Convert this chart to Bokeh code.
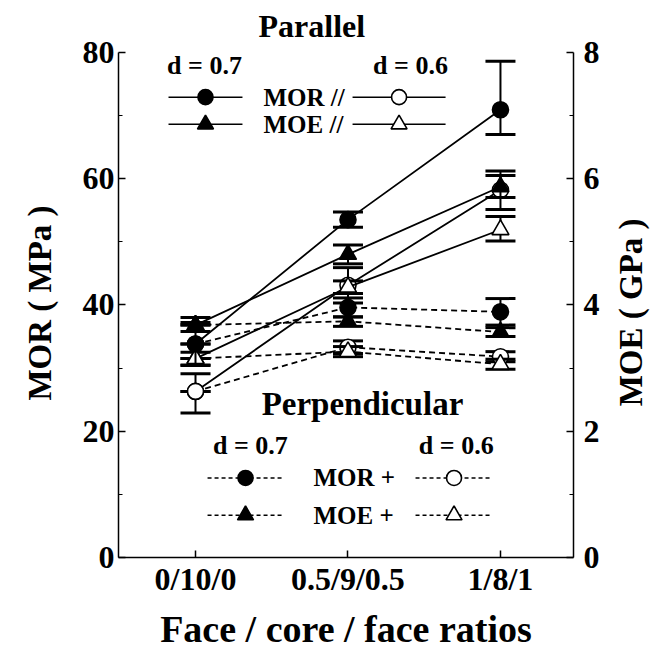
import math
from bokeh.plotting import figure
from bokeh.layouts import row
from bokeh.models import Range1d, LinearAxis, FixedTicker, Label
from bokeh.embed import file_html
from bokeh.resources import INLINE

# ---------------- data ----------------
ratios = ["0/10/0", "0.5/9/0.5", "1/8/1"]
xpos = [0, 1, 2]

# Parallel (solid lines)
mor_par_07 = [33.8, 53.5, 70.9]
mor_par_07_lo = [30.4, 52.3, 67.0]
mor_par_07_hi = [37.2, 54.7, 78.6]

moe_par_07 = [3.68, 4.80, 5.87]
moe_par_07_lo = [3.58, 4.65, 5.70]
moe_par_07_hi = [3.80, 4.95, 6.12]

mor_par_06 = [26.3, 43.1, 58.2]
mor_par_06_lo = [22.9, 40.3, 55.1]
mor_par_06_hi = [29.1, 45.9, 60.5]

moe_par_06 = [3.15, 4.28, 5.19]
moe_par_06_lo = [3.05, 4.18, 5.01]
moe_par_06_hi = [3.25, 4.38, 5.40]

# Perpendicular (dashed lines)
mor_per_07 = [33.8, 39.6, 38.9]
mor_per_07_lo = [33.8, 38.1, 36.8]
mor_per_07_hi = [33.8, 41.1, 41.0]

moe_per_07 = [3.68, 3.74, 3.57]
moe_per_07_lo = [3.68, 3.66, 3.50]
moe_per_07_hi = [3.68, 3.81, 3.64]

mor_per_06 = [26.3, 33.3, 31.8]
mor_per_06_lo = [26.3, 32.3, 31.0]
mor_per_06_hi = [26.3, 34.3, 32.6]

moe_per_06 = [3.15, 3.26, 3.06]
moe_per_06_lo = [3.15, 3.18, 2.98]
moe_per_06_hi = [3.15, 3.34, 3.14]

mor_ticks = [0, 20, 40, 60, 80]
mor_minor = [10, 30, 50, 70]
moe_ticks = [0, 2, 4, 6, 8]
moe_minor = [1, 3, 5, 7]

FONT = "Liberation Serif"
Y_END = 80.6
SIDE_W = 52

p = figure(width=665 - SIDE_W, height=652, output_backend="svg", toolbar_location=None,
           x_range=Range1d(-0.505, 2.479), y_range=Range1d(0, Y_END),
           min_border_left=118, min_border_right=92 - SIDE_W, min_border_top=48,
           min_border_bottom=86)
p.extra_y_ranges = {"moe": Range1d(0, Y_END / 10)}
p.grid.visible = False
p.outline_line_color = None
p.background_fill_color = "white"
p.border_fill_color = "white"

# "Parallel" heading above the plot area
p.title.text = "Parallel"
p.title.align = "left"
p.title.offset = 140
p.title.text_font = FONT
p.title.text_font_style = "bold"
p.title.text_font_size = "32px"
p.title.text_color = "black"
p.title.standoff = 10


def style_axis(ax):
    ax.axis_line_color = "black"
    ax.axis_line_width = 1.5
    ax.major_tick_in = 7
    ax.major_tick_out = 0
    ax.minor_tick_in = 4
    ax.minor_tick_out = 0
    ax.major_tick_line_width = 1.5
    ax.minor_tick_line_width = 1.2
    ax.major_label_text_font = FONT
    ax.major_label_text_font_style = "bold"
    ax.major_label_text_font_size = "32px"
    ax.major_label_text_color = "black"
    ax.axis_label_text_font = FONT
    ax.axis_label_text_font_style = "bold"
    ax.axis_label_text_font_size = "33px"
    ax.axis_label_text_color = "black"


# bottom axis
xa = p.xaxis[0]
style_axis(xa)
xa.ticker = FixedTicker(ticks=xpos)
xa.major_label_overrides = {i: r for i, r in zip(xpos, ratios)}
xa.axis_label = "Face / core / face ratios"
xa.major_label_standoff = 3
xa.axis_label_standoff = 8
xa.axis_label_text_font_size = "38px"

# left axis
ya = p.yaxis[0]
style_axis(ya)
ya.ticker = FixedTicker(ticks=mor_ticks, minor_ticks=mor_minor)
ya.bounds = (0, 80)
ya.axis_label = "MOR ( MPa )"
ya.major_label_standoff = 4
ya.axis_label_standoff = 22

# right axis (its title is drawn in the narrow side panel, reading bottom-to-top)
ra = LinearAxis(y_range_name="moe")
style_axis(ra)
ra.ticker = FixedTicker(ticks=moe_ticks, minor_ticks=moe_minor)
ra.bounds = (0, 8)
ra.major_label_standoff = 10
p.add_layout(ra, "right")


def series(vals, lo, hi, marker, filled, dash, rng=None):
    kw = {} if rng is None else {"y_range_name": rng}
    p.segment(x0=xpos, y0=lo, x1=xpos, y1=hi, line_color="black", line_width=2, **kw)
    p.scatter(x=xpos, y=lo, marker="dash", size=30, line_color="black", line_width=3, **kw)
    p.scatter(x=xpos, y=hi, marker="dash", size=30, line_color="black", line_width=3, **kw)
    p.line(x=xpos, y=vals, line_color="black", line_width=1.8,
           line_dash=dash, **kw)
    p.scatter(x=xpos, y=vals, marker=marker, size=16 if marker == "circle" else 17,
              fill_color="black" if filled else "white", line_color="black",
              line_width=1.6, **kw)


series(mor_per_06, mor_per_06_lo, mor_per_06_hi, "circle", False, "6 4")
series(moe_per_06, moe_per_06_lo, moe_per_06_hi, "triangle", False, "6 4", "moe")
series(mor_per_07, mor_per_07_lo, mor_per_07_hi, "circle", True, "6 4")
series(moe_per_07, moe_per_07_lo, moe_per_07_hi, "triangle", True, "6 4", "moe")
series(mor_par_06, mor_par_06_lo, mor_par_06_hi, "circle", False, "solid")
series(moe_par_06, moe_par_06_lo, moe_par_06_hi, "triangle", False, "solid", "moe")
series(mor_par_07, mor_par_07_lo, mor_par_07_hi, "circle", True, "solid")
series(moe_par_07, moe_par_07_lo, moe_par_07_hi, "triangle", True, "solid", "moe")


# ---------------- hand-drawn legends ----------------
def label(fig, x, y, text, size, align="center", angle=0.0):
    fig.add_layout(Label(x=x, y=y, text=text, text_font=FONT, text_font_style="bold",
                         text_font_size=size, text_align=align, text_baseline="middle",
                         text_color="black", angle=angle))


def legend_row(y, text, marker, dash, lx, rx, tx):
    for (x0, x1), filled in zip((lx, rx), (True, False)):
        p.line(x=[x0, x1], y=[y, y], line_color="black", line_width=1.5, line_dash=dash)
        p.scatter(x=[(x0 + x1) / 2], y=[y], marker=marker,
                  size=15 if marker == "circle" else 16,
                  fill_color="black" if filled else "white", line_color="black",
                  line_width=1.6)
    label(p, tx, y, text, "25px", "left")


label(p, 0.059, 77.9, "d = 0.7", "26px")
label(p, 1.41, 77.9, "d = 0.6", "26px")
legend_row(72.9, "MOR //", "circle", "solid", (-0.177, 0.308), (1.03, 1.64), 0.446)
legend_row(68.6, "MOE //", "triangle", "solid", (-0.177, 0.308), (1.03, 1.64), 0.446)

label(p, 1.095, 24.3, "Perpendicular", "33px")
label(p, 0.36, 17.7, "d = 0.7", "26px")
label(p, 1.71, 17.7, "d = 0.6", "26px")
legend_row(12.6, "MOR +", "circle", "4 3", (0.079, 0.577), (1.443, 1.948), 0.774)
legend_row(6.7, "MOE +", "triangle", "4 3", (0.079, 0.577), (1.443, 1.948), 0.774)

# ---------------- side panel carrying the right-axis title ----------------
side = figure(width=SIDE_W, height=652, output_backend="svg", toolbar_location=None,
              x_range=Range1d(0, SIDE_W), y_range=Range1d(0, 652),
              x_axis_type=None, y_axis_type=None,
              min_border_left=0, min_border_right=0, min_border_top=0,
              min_border_bottom=0)
side.grid.visible = False
side.outline_line_color = None
side.background_fill_color = "white"
side.border_fill_color = "white"
label(side, 17, 652 - 338, "MOE ( GPa )", "33px", angle=math.pi / 2)

layout = row(p, side, spacing=0)
open("out.html", "w").write(file_html(layout, INLINE))
